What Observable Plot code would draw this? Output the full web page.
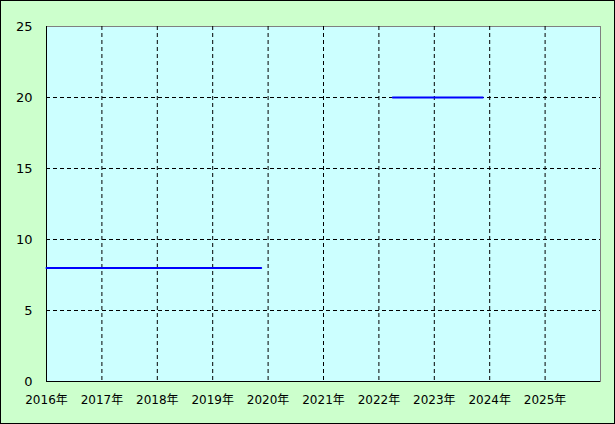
<!DOCTYPE html>
<html>
<head>
<meta charset="utf-8">
<script src="https://cdn.jsdelivr.net/npm/d3@7"></script>
<script src="https://cdn.jsdelivr.net/npm/@observablehq/plot@0.6"></script>
<style>
  html, body { margin: 0; padding: 0; background: #ffffff; }
  #chart svg { display: block; outline: 1px solid #000; outline-offset: -1px; }
</style>
</head>
<body>
<div id="chart"></div>
<script>
// Data
const segmentStart = [2016.0, 2022.25];
const segmentEnd   = [2019.875, 2023.875];
const segmentValue = [8, 20];
const xTicks = [2016, 2017, 2018, 2019, 2020, 2021, 2022, 2023, 2024, 2025];
const yTicks = [0, 5, 10, 15, 20, 25];

const rows = [];
segmentValue.forEach((v, i) => {
  rows.push({x: segmentStart[i], y: v, s: i});
  rows.push({x: segmentEnd[i], y: v, s: i});
});

const chart = Plot.plot({
  width: 615,
  height: 424,
  marginLeft: 46,
  marginRight: 15,
  marginTop: 26,
  marginBottom: 43,
  style: {background: "#ccffcc", fontFamily: "'DejaVu Sans', 'Noto Sans CJK JP', sans-serif", fontSize: "12px", color: "#000"},
  x: {domain: [2016, 2026], ticks: xTicks},
  y: {domain: [0, 25], ticks: yTicks},
  marks: [
    Plot.frame({fill: "#ccffff", stroke: "#808080"}),
    Plot.gridX(xTicks.slice(1), {stroke: "#000", strokeOpacity: 1, strokeDasharray: "4,3"}),
    Plot.gridY(yTicks.slice(1, -1), {stroke: "#000", strokeOpacity: 1, strokeDasharray: "4,3"}),
    Plot.ruleX([2016], {stroke: "#000"}),
    Plot.ruleY([0], {stroke: "#000"}),
    Plot.axisX(xTicks, {tickSize: 0, tickPadding: 14, tickFormat: d => d + "年", label: null, fontSize: 12}),
    Plot.axisY(yTicks, {tickSize: 0, tickPadding: 14, label: null, fontSize: 13}),
    Plot.line(rows, {x: "x", y: "y", z: "s", stroke: "#0000ff", strokeWidth: 2})
  ]
});
document.getElementById("chart").appendChild(chart);
</script>
</body>
</html>
